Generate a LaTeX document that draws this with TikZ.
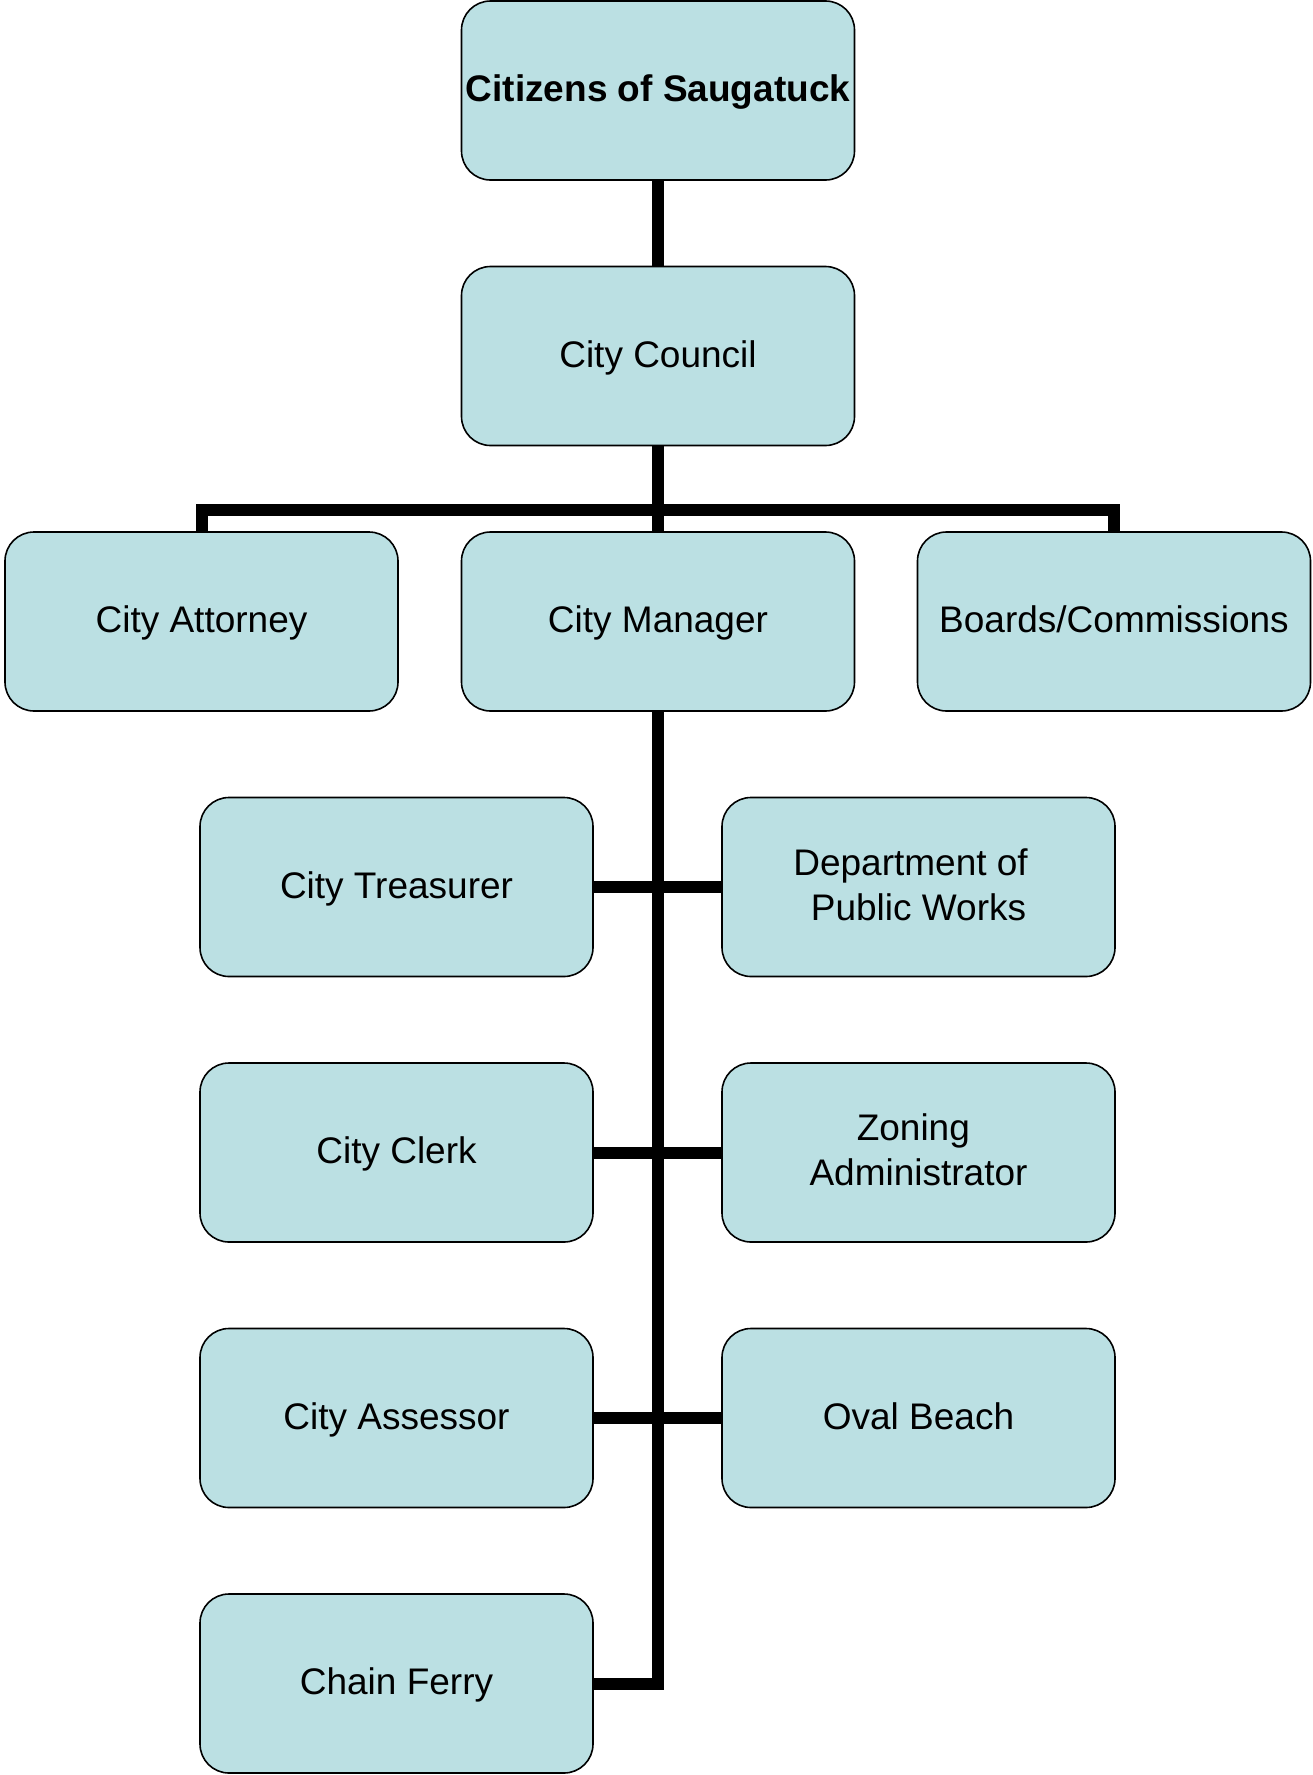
\documentclass[tikz,border=0pt]{standalone}
\usepackage{fontspec}
\setmainfont{Liberation Sans}
\usetikzlibrary{backgrounds}
\definecolor{boxfill}{RGB}{187,224,227}
\tikzset{
  orgbox/.style={rectangle, rounded corners=29pt, draw=black, line width=1.6pt,
    fill=boxfill, minimum width=393pt, minimum height=179pt, inner sep=0pt,
    font=\fontsize{37}{45}\selectfont, align=center},
  oneline/.style={text height=22pt, text depth=0pt},
  twoline/.style={text depth=5pt},
  wire/.style={line width=12pt, line join=miter, draw=black}
}
\begin{document}
\begin{tikzpicture}[x=1pt,y=-1pt]
\useasboundingbox (0,0) rectangle (1312,1775);
\node[orgbox,oneline] (cit) at (658,90.5) {\bfseries Citizens of Saugatuck};
\node[orgbox,oneline] (council) at (658,356) {City Council};
\node[orgbox,oneline] (attorney) at (201.5,621.5) {City Attorney};
\node[orgbox,oneline] (manager) at (658,621.5) {City Manager};
\node[orgbox,oneline] (boards) at (1114,621.5) {Boards/Commissions};
\node[orgbox,oneline] (treasurer) at (396.5,887) {City Treasurer};
\node[orgbox,twoline] (dpw) at (918.5,887) {Department of\kern0.43em\\Public Works};
\node[orgbox,oneline] (clerk) at (396.5,1152.5) {City Clerk};
\node[orgbox,twoline] (zoning) at (918.5,1152.5) {Zoning\kern0.28em\\Administrator};
\node[orgbox,oneline] (assessor) at (396.5,1418) {City Assessor};
\node[orgbox,oneline] (oval) at (918.5,1418) {Oval Beach};
\node[orgbox,oneline] (ferry) at (396.5,1683.5) {Chain Ferry};
\coordinate (bus) at (658,509.5);
\begin{scope}[on background layer]
\draw[wire] (cit.south) -- (council.north);
\draw[wire] (council.south) -- (manager.north);
\draw[wire] (attorney.north) |- (bus) -| (boards.north);
\draw[wire] (manager.south) |- (ferry.east);
\draw[wire] (treasurer.east) -- (dpw.west);
\draw[wire] (clerk.east) -- (zoning.west);
\draw[wire] (assessor.east) -- (oval.west);
\end{scope}
\end{tikzpicture}
\end{document}
